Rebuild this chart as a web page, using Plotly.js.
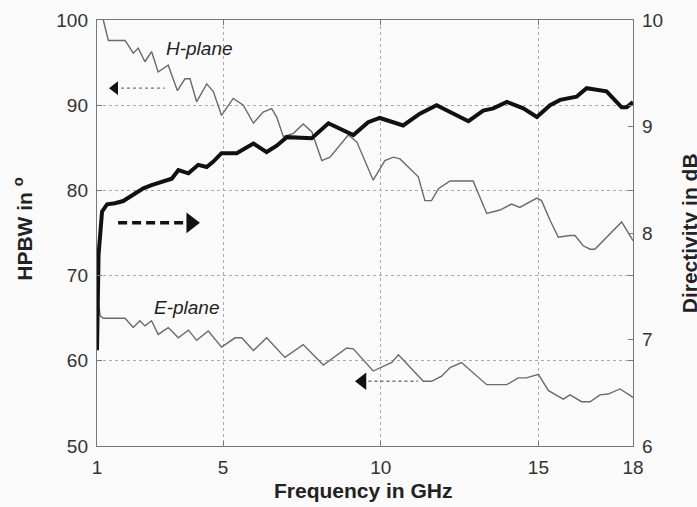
<!DOCTYPE html>
<html>
<head>
<meta charset="utf-8">
<script src="https://cdn.plot.ly/plotly-3.0.1.min.js"></script>
<style>html,body{margin:0;padding:0;background:#fafafa;}#chart{width:697px;height:507px;}</style>
</head>
<body>
<div id="chart"></div>
<script>
// ---- data ----
const xTicks = [1, 5, 10, 15, 18];

const dirFreq = [1.0, 1.02, 1.05, 1.1, 1.16, 1.32, 1.57, 1.83, 2.15, 2.47, 2.73, 3.05, 3.37, 3.58, 3.9, 4.21, 4.48, 4.69, 4.95, 5.43, 5.96, 6.38, 6.7, 7.02, 7.44, 7.81, 8.34, 9.13, 9.6, 9.97, 10.71, 11.24, 11.77, 12.78, 13.25, 13.57, 14.0, 14.52, 14.95, 15.37, 15.69, 16.21, 16.53, 17.16, 17.64, 17.8, 18.0];
const dirVal  = [6.9, 7.4, 7.8, 7.98, 8.2, 8.27, 8.28, 8.3, 8.36, 8.42, 8.45, 8.48, 8.51, 8.59, 8.56, 8.64, 8.62, 8.67, 8.75, 8.75, 8.84, 8.76, 8.82, 8.90, 8.89, 8.89, 9.03, 8.92, 9.04, 9.08, 9.01, 9.12, 9.20, 9.05, 9.15, 9.17, 9.23, 9.17, 9.09, 9.20, 9.25, 9.28, 9.36, 9.33, 9.18, 9.18, 9.23];

const hFreq = [1.2, 1.36, 1.89, 2.15, 2.31, 2.52, 2.73, 2.94, 3.26, 3.55, 3.79, 3.95, 4.16, 4.48, 4.69, 4.95, 5.32, 5.64, 5.96, 6.27, 6.54, 6.7, 6.91, 7.23, 7.54, 7.81, 8.13, 8.39, 8.97, 9.24, 9.76, 10.13, 10.4, 10.61, 11.19, 11.4, 11.61, 11.83, 12.2, 12.93, 13.36, 13.78, 14.15, 14.41, 14.95, 15.1, 15.37, 15.63, 16.0, 16.16, 16.42, 16.64, 16.79, 17.16, 17.64, 18.0];
const hVal  = [100, 97.6, 97.6, 96.1, 96.7, 95.1, 96.3, 93.9, 94.7, 91.7, 93.1, 93.1, 90.4, 92.5, 91.6, 88.8, 90.8, 90.0, 87.9, 89.2, 89.6, 88.6, 86.3, 86.7, 87.8, 86.9, 83.5, 83.9, 86.5, 85.7, 81.2, 83.5, 83.9, 83.7, 81.6, 78.8, 78.8, 80.2, 81.1, 81.1, 77.3, 77.7, 78.4, 78.0, 79.1, 78.8, 76.5, 74.5, 74.7, 74.7, 73.5, 73.1, 73.1, 74.5, 76.3, 74.1];

const eFreq = [1.0, 1.04, 1.1, 1.2, 1.89, 2.15, 2.36, 2.52, 2.73, 2.94, 3.26, 3.58, 3.9, 4.16, 4.53, 4.95, 5.38, 5.59, 5.96, 6.38, 6.96, 7.54, 8.18, 8.92, 9.13, 9.76, 10.35, 10.56, 11.35, 11.61, 11.93, 12.2, 12.56, 13.36, 14.0, 14.36, 14.62, 15.0, 15.32, 15.79, 16.0, 16.37, 16.64, 16.95, 17.21, 17.59, 18.0];
const eVal  = [68.0, 66.6, 65.3, 65.0, 65.0, 63.9, 64.7, 64.1, 64.7, 63.1, 63.9, 62.7, 63.6, 62.4, 63.5, 61.6, 62.7, 62.7, 61.2, 62.7, 60.4, 61.9, 59.5, 61.5, 61.4, 58.8, 59.8, 60.7, 57.6, 57.6, 58.2, 59.2, 59.8, 57.2, 57.2, 58.0, 58.0, 58.4, 56.5, 55.5, 56.0, 55.2, 55.2, 56.0, 56.1, 56.7, 55.7];

// arrow guides (frequency, HPBW)
const hArrowX = [1.57, 3.15];  const hArrowY = [92.0, 92.0];
const eArrowX = [9.42, 11.18]; const eArrowY = [57.6, 57.6];
const dArrowX = [1.67, 3.75];  const dArrowY = [76.2, 76.2];
const dArrowHeadX = [3.98];

const labels = {h: 'H-plane', e: 'E-plane', hPos: [4.25, 96.7], ePos: [3.85, 66.3]};

const FONT = 'Liberation Sans, Arial, sans-serif';

const traces = [
  {x: eFreq, y: eVal, type: 'scatter', mode: 'lines', line: {color: '#6a6a6a', width: 1.4}, yaxis: 'y', hoverinfo: 'skip'},
  {x: hFreq, y: hVal, type: 'scatter', mode: 'lines', line: {color: '#6a6a6a', width: 1.4}, yaxis: 'y', hoverinfo: 'skip'},
  {x: dirFreq, y: dirVal, type: 'scatter', mode: 'lines', line: {color: '#111', width: 4}, yaxis: 'y2', hoverinfo: 'skip'},
  // H-plane arrow (dotted, left)
  {x: hArrowX, y: hArrowY, type: 'scatter', mode: 'lines', line: {color: '#777', width: 1.3, dash: 'dot'}, yaxis: 'y'},
  {x: [hArrowX[0]], y: [hArrowY[0]], type: 'scatter', mode: 'markers', marker: {symbol: 'triangle-left', size: 12, color: '#111'}, yaxis: 'y'},
  // E-plane arrow (dotted, left)
  {x: eArrowX, y: eArrowY, type: 'scatter', mode: 'lines', line: {color: '#777', width: 1.3, dash: 'dot'}, yaxis: 'y'},
  {x: [eArrowX[0]], y: [eArrowY[0]], type: 'scatter', mode: 'markers', marker: {symbol: 'triangle-left', size: 15, color: '#111'}, yaxis: 'y'},
  // Directivity arrow (dashed, right)
  {x: dArrowX, y: dArrowY, type: 'scatter', mode: 'lines', line: {color: '#111', width: 3.4, dash: '9px,5px'}, yaxis: 'y'},
  {x: dArrowHeadX, y: [dArrowY[0]], type: 'scatter', mode: 'markers', marker: {symbol: 'triangle-right', size: 18, color: '#111'}, yaxis: 'y'}
];

const axisCommon = {
  showline: true, linecolor: '#777', linewidth: 1.2,
  ticks: 'inside', ticklen: 5, tickcolor: '#777', tickwidth: 1,
  tickfont: {family: FONT, size: 19, color: '#333'},
  zeroline: false
};

const layout = {
  width: 697, height: 507,
  margin: {l: 97, r: 64, t: 20, b: 61},
  paper_bgcolor: '#fafafa', plot_bgcolor: '#fafafa',
  showlegend: false,
  xaxis: Object.assign({}, axisCommon, {
    range: [1, 18], tickvals: xTicks, ticktext: xTicks.map(String),
    showgrid: true, gridcolor: '#ababab', griddash: 'dot', gridwidth: 1,
    mirror: 'ticks', ticklabelstandoff: 4
  }),
  yaxis: Object.assign({}, axisCommon, {
    range: [50, 100], dtick: 10, tick0: 50,
    showgrid: true, gridcolor: '#ababab', griddash: 'dot', gridwidth: 1,
    mirror: 'ticks', ticklabelstandoff: 4
  }),
  yaxis2: Object.assign({}, axisCommon, {
    range: [6, 10], dtick: 1, tick0: 6, overlaying: 'y', side: 'right',
    showgrid: false, ticklabelstandoff: 4
  }),
  annotations: [
    {text: '<i>' + labels.h + '</i>', x: labels.hPos[0], y: labels.hPos[1], xref: 'x', yref: 'y', showarrow: false, font: {family: FONT, size: 19, color: '#222'}},
    {text: '<i>' + labels.e + '</i>', x: labels.ePos[0], y: labels.ePos[1], xref: 'x', yref: 'y', showarrow: false, font: {family: FONT, size: 19, color: '#222'}},
    {text: '<b>Frequency in GHz</b>', x: 0.498, y: -0.105, xref: 'paper', yref: 'paper', xanchor: 'center', yanchor: 'middle', showarrow: false, font: {family: FONT, size: 21, color: '#222'}},
    {text: '<b>HPBW in <sup>o</sup></b>', x: -0.138, y: 0.51, xref: 'paper', yref: 'paper', xanchor: 'center', yanchor: 'middle', textangle: -90, showarrow: false, font: {family: FONT, size: 21, color: '#222'}},
    {text: '<b>Directivity in dB</b>', x: 1.105, y: 0.5, xref: 'paper', yref: 'paper', xanchor: 'center', yanchor: 'middle', textangle: -90, showarrow: false, font: {family: FONT, size: 21, color: '#222'}}
  ]
};

Plotly.newPlot('chart', traces, layout, {staticPlot: true, displayModeBar: false});
</script>
</body>
</html>
